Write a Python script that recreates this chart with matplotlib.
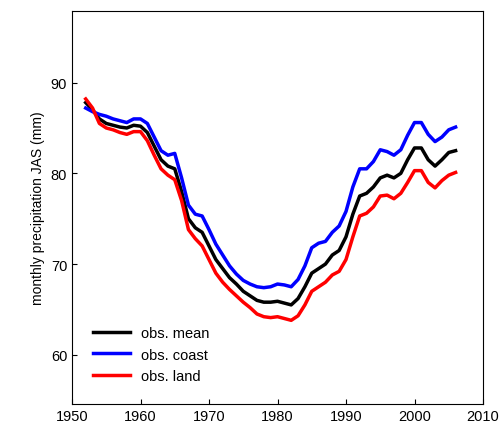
import matplotlib.pyplot as plt

plt.rcParams['font.family'] = ['Liberation Sans', 'DejaVu Sans']

years = list(range(1952, 2007))
obs_mean = [87.8, 87.0, 86.0, 85.5, 85.3, 85.1, 85.0, 85.3, 85.2, 84.5,
             83.0, 81.5, 80.8, 80.5, 78.0, 75.0, 74.0, 73.5, 72.0, 70.5,
             69.5, 68.5, 67.8, 67.0, 66.5, 66.0, 65.8, 65.8, 65.9, 65.7,
             65.5, 66.2, 67.5, 69.0, 69.5, 70.0, 71.0, 71.5, 73.0, 75.5,
             77.5, 77.8, 78.5, 79.5, 79.8, 79.5, 80.0, 81.5, 82.8, 82.8,
             81.5, 80.8, 81.5, 82.3, 82.5]
obs_coast = [87.2, 86.8, 86.5, 86.3, 86.0, 85.8, 85.6, 86.0, 86.0, 85.5,
              84.0, 82.5, 82.0, 82.2, 79.5, 76.5, 75.5, 75.3, 73.8, 72.2,
              71.0, 69.8, 68.9, 68.2, 67.8, 67.5, 67.4, 67.5, 67.8, 67.7,
              67.5, 68.3, 69.8, 71.8, 72.3, 72.5, 73.5, 74.2, 75.8, 78.5,
              80.5, 80.5, 81.3, 82.6, 82.4, 82.0, 82.6, 84.2, 85.6, 85.6,
              84.3, 83.5, 84.0, 84.8, 85.1]
obs_land = [88.2, 87.2, 85.5, 85.0, 84.8, 84.5, 84.3, 84.6, 84.6, 83.6,
             82.0, 80.5, 79.8, 79.3, 77.0, 73.8, 72.8, 72.0, 70.5, 69.0,
             68.0, 67.2, 66.5, 65.8, 65.2, 64.5, 64.2, 64.1, 64.2, 64.0,
             63.8, 64.3, 65.5, 67.0, 67.5, 68.0, 68.8, 69.2, 70.5, 73.0,
             75.3, 75.6, 76.3, 77.5, 77.6, 77.2, 77.8, 79.0, 80.3, 80.3,
             79.0, 78.4, 79.2, 79.8, 80.1]

fig, ax = plt.subplots(figsize=(5, 4.27), dpi=100)
ax.plot(years, obs_mean, color="black", lw=2.5, label="obs. mean")
ax.plot(years, obs_coast, color="blue", lw=2.5, label="obs. coast")
ax.plot(years, obs_land, color="red", lw=2.5, label="obs. land")
ax.set_xlim(1950, 2010)
ax.set_ylim(54.6, 97.9)
ax.set_xticks(range(1950, 2011, 10))
ax.set_yticks([60, 70, 80, 90])
ax.set_ylabel("monthly precipitation JAS (mm)", fontsize=10)
ax.tick_params(labelsize=10.5, direction="in")
ax.legend(loc="lower left", frameon=False, fontsize=10.5, handlelength=2.5,
          bbox_to_anchor=(0.02, 0.02))
plt.subplots_adjust(left=0.144, right=0.966, top=0.972, bottom=0.052)
plt.savefig("out.png", dpi=100)
